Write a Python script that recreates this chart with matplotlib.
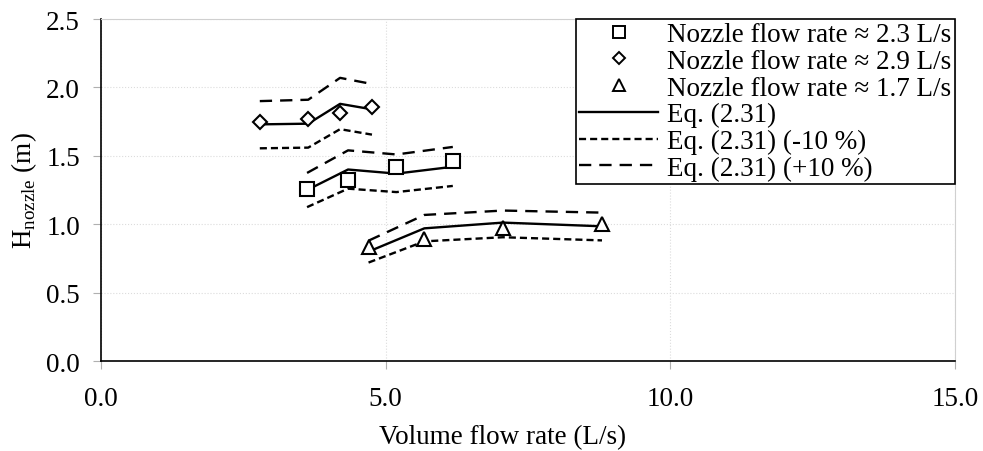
import matplotlib
matplotlib.use("Agg")
import matplotlib.pyplot as plt
from matplotlib.lines import Line2D

# nozzle flow rate ~ 2.3 L/s
flow_23 = [3.62, 4.34, 5.19, 6.18]
h_23 = [1.26, 1.325, 1.415, 1.46]
eq_23 = [1.25, 1.40, 1.37, 1.42]
eq_23_lo = [1.125, 1.26, 1.235, 1.28]
eq_23_hi = [1.375, 1.54, 1.51, 1.565]

# nozzle flow rate ~ 2.9 L/s
flow_29 = [2.79, 3.64, 4.20, 4.76]
h_29 = [1.75, 1.77, 1.815, 1.86]
eq_29 = [1.73, 1.735, 1.88, 1.84]
eq_29_lo = [1.555, 1.56, 1.695, 1.655]
eq_29_hi = [1.90, 1.91, 2.07, 2.025]

# nozzle flow rate ~ 1.7 L/s
flow_17 = [4.70, 5.68, 7.06, 8.80]
h_17 = [0.83, 0.895, 0.97, 1.00]
eq_17 = [0.80, 0.97, 1.012, 0.985]
eq_17_lo = [0.72, 0.875, 0.905, 0.882]
eq_17_hi = [0.88, 1.068, 1.10, 1.085]

x_ticks = [0.0, 5.0, 10.0, 15.0]
y_ticks = [0.0, 0.5, 1.0, 1.5, 2.0, 2.5]
labels = [
    "Nozzle flow rate \u2248 2.3 L/s",
    "Nozzle flow rate \u2248 2.9 L/s",
    "Nozzle flow rate \u2248 1.7 L/s",
    "Eq. (2.31)",
    "Eq. (2.31) (-10 %)",
    "Eq. (2.31) (+10 %)",
]

plt.rcParams["font.family"] = ["Liberation Serif", "DejaVu Serif"]
plt.rcParams["mathtext.fontset"] = "custom"
plt.rcParams["mathtext.rm"] = "Liberation Serif"
plt.rcParams["font.size"] = 19.5

LW = 1.7
LO_DASH = (3.0, 1.7)
HI_DASH = (5.2, 3.4)
MK = dict(color="none", markerfacecolor="white", markeredgecolor="black",
          markeredgewidth=1.5, linestyle="none", zorder=4)

fig = plt.figure(figsize=(9.83, 4.52), dpi=100)
ax = fig.add_axes([0.1027, 0.199, 0.8688, 0.7567])

for fx, eq, lo, hi in [(flow_23, eq_23, eq_23_lo, eq_23_hi),
                       (flow_29, eq_29, eq_29_lo, eq_29_hi),
                       (flow_17, eq_17, eq_17_lo, eq_17_hi)]:
    ax.plot(fx, eq, color="black", lw=LW, zorder=3)
    ax.plot(fx, lo, color="black", lw=LW, dashes=LO_DASH, zorder=3)
    ax.plot(fx, hi, color="black", lw=LW, dashes=HI_DASH, zorder=3)

ax.plot(flow_23, h_23, marker="s", markersize=10, **MK)
ax.plot(flow_29, h_29, marker="D", markersize=7.5, **MK)
ax.plot(flow_17, h_17, marker="^", markersize=10, **MK)

ax.set_xlim(0, 15)
ax.set_ylim(0, 2.5)
ax.set_xticks(x_ticks)
ax.set_xticklabels([f"{v:.1f}" for v in x_ticks])
ax.set_yticks(y_ticks)
ax.set_yticklabels([f"{v:.1f}" for v in y_ticks])
ax.grid(True, color="#dcdcdc", linestyle=":", lw=0.8, zorder=0)
ax.set_axisbelow(True)
for s in ["top", "right"]:
    ax.spines[s].set_color("#d0d0d0")
for s in ["left", "bottom"]:
    ax.spines[s].set_color("black")
    ax.spines[s].set_linewidth(1.2)
ax.tick_params(direction="out", length=6, color="#b0b0b0", width=0.8)
ax.tick_params(axis="y", pad=9)
ax.tick_params(axis="x", pad=12)

ax.set_xlabel("Volume flow rate (L/s)")
ax.xaxis.set_label_coords(0.4707, -0.185)
ax.set_ylabel(r"H$_{\rm nozzle}$ (m)")
ax.yaxis.set_label_coords(-0.072, 0.5)

mk_leg = dict(color="none", markerfacecolor="white", markeredgecolor="black",
              markeredgewidth=1.4, linestyle="none")
handles = [
    Line2D([], [], marker="s", markersize=9, **mk_leg),
    Line2D([], [], marker="D", markersize=6.5, **mk_leg),
    Line2D([], [], marker="^", markersize=9, **mk_leg),
    Line2D([], [], color="black", lw=LW),
    Line2D([], [], color="black", lw=LW, dashes=LO_DASH),
    Line2D([], [], color="black", lw=LW, dashes=HI_DASH),
]
leg = ax.legend(handles, labels, loc="upper right", bbox_to_anchor=(1.0, 1.0),
                borderaxespad=0, frameon=True, fancybox=False, framealpha=1,
                edgecolor="black", handlelength=2.9, handletextpad=0.35,
                labelspacing=0.06, borderpad=0.12)
leg.get_frame().set_linewidth(1.2)

fig.savefig("out.png", dpi=100)
